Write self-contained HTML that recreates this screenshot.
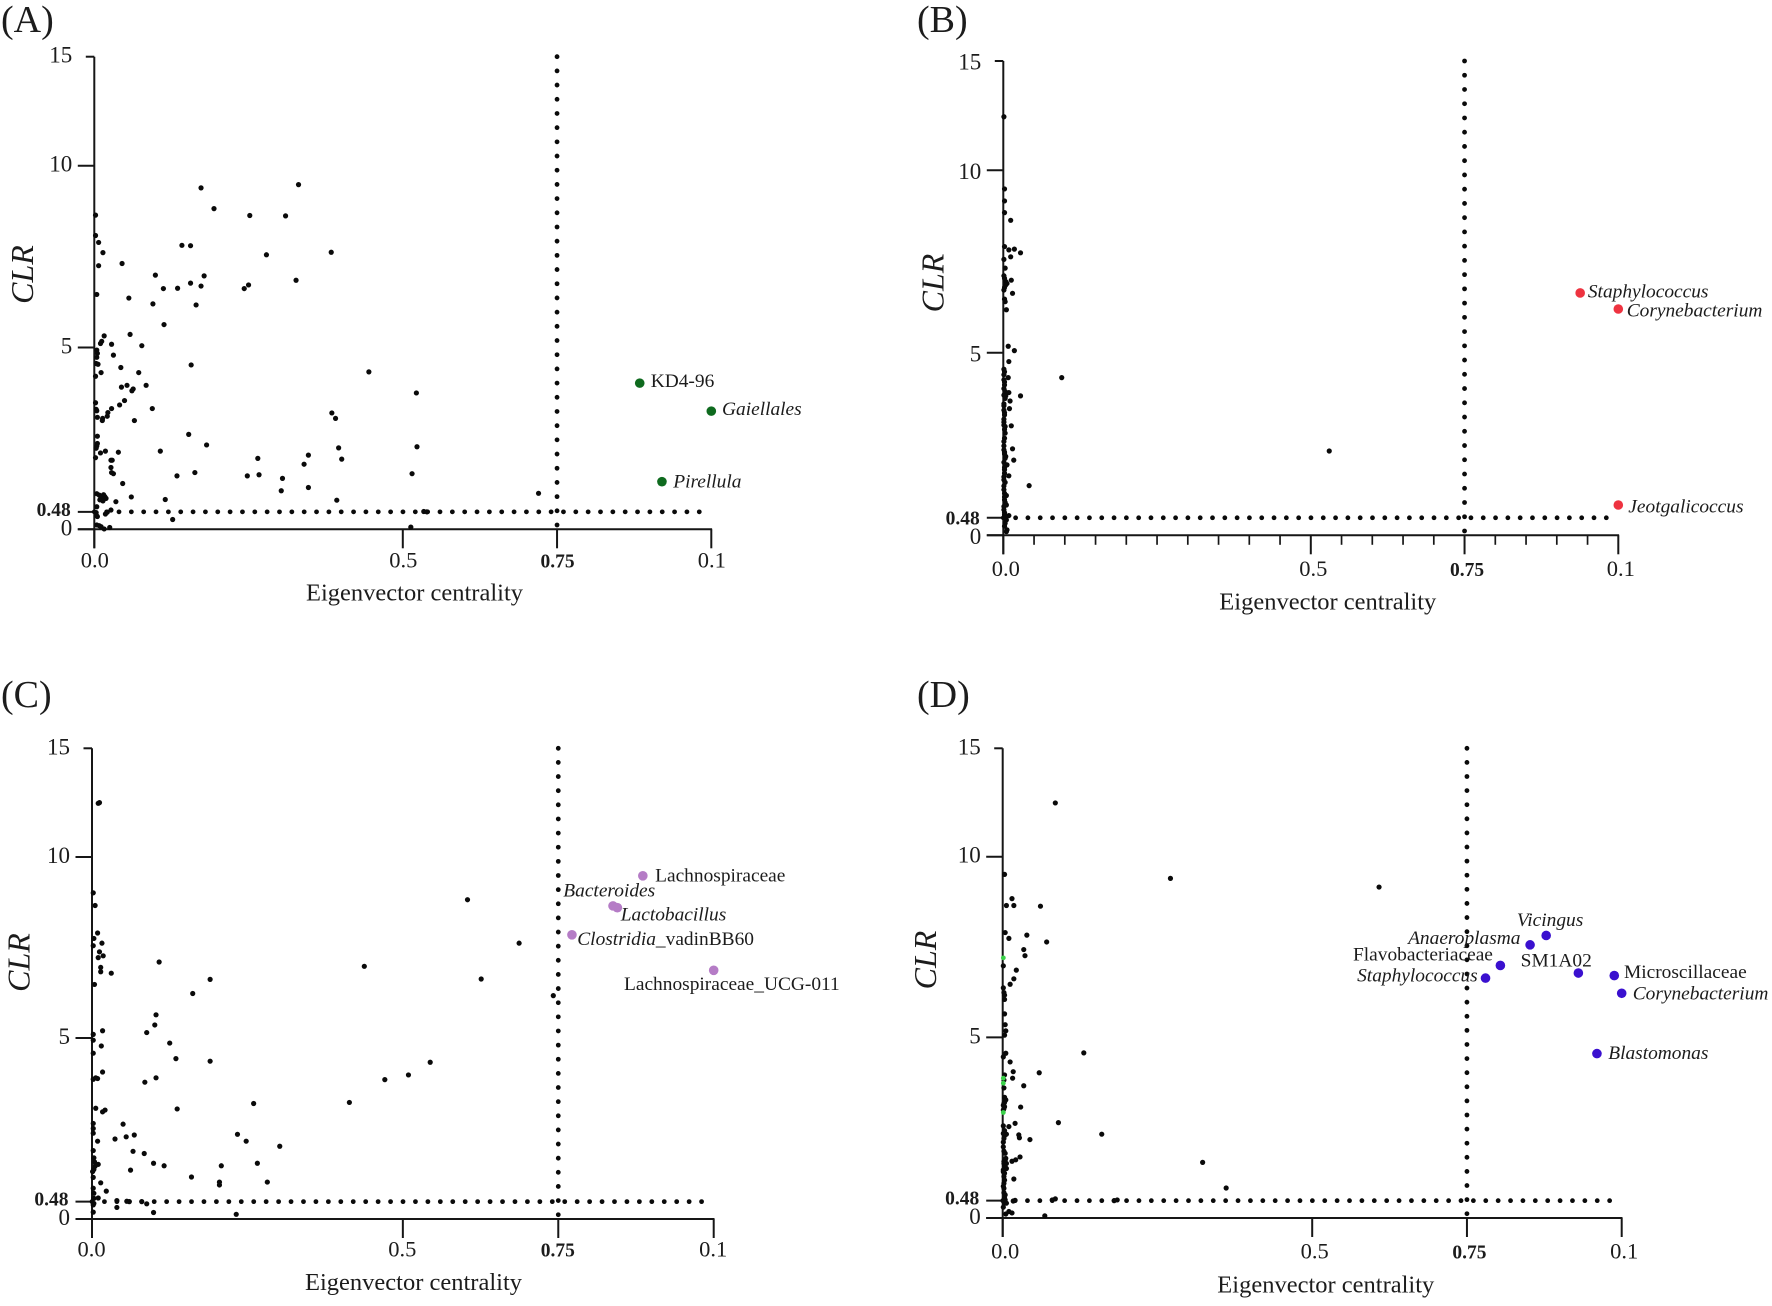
<!DOCTYPE html>
<html lang="en">
<head>
<meta charset="utf-8">
<title>Eigenvector centrality versus CLR, panels A to D</title>
<style>
html,body{margin:0;padding:0;background:#fff;width:1772px;height:1306px;overflow:hidden}
svg{display:block;filter:blur(.3px)}
text{font-family:"Liberation Serif",serif;fill:#1c1c1c}
</style>
</head>
<body>
<svg id="figure" xmlns="http://www.w3.org/2000/svg" width="1772" height="1306" viewBox="0 0 1772 1306"></svg>
<script>
/* ---------- shared axis data ---------- */
const yTickValues = [15, 10, 5, 0.48, 0];
const yTickLabels = ["15", "10", "5", "0.48", "0"];
const xTickValues = [0, 0.5, 0.75, 1];
const xTickLabels = ["0.0", "0.5", "0.75", "0.1"];
const clrThreshold = 0.48;
const centralityThreshold = 0.75;

/* ---------- panel A ---------- */
const panelAX = [
.173,.331,.194,.252,.310,.002,.002,.007,.014,.045,.007,.142,.156,.279,.384,.099,.178,.327,.156,.173,.250,.243,.135,.112,.004,.056,.095,.165,.113,
.058,.016,.012,.010,.028,.077,.004,.005,.031,.004,.003,.006,.157,.043,.011,.072,.445,.002,.044,.053,.063,.061,.084,.522,.002,.003,.004,.049,.041,.028,.022,.021,.094,.005,.0135,.013,.065,.385,.391,
.005,.153,.182,.005,.004,.003,.396,.523,.018,.010,.039,.107,.002,.027,.029,.265,.401,.347,.340,.027,.028,.031,.163,.267,.248,.134,.515,.305,.046,.303,.347,
.004,.008,.015,.017,.012,.009,.014,.019,.060,.115,.393,.035,.004,.027,.021,.018,.003,.004,.005,.127,.513,.004,.008,.011,.016,.025,.720,.534,.539];
const panelAY = [
9.39,9.48,8.82,8.63,8.62,8.64,8.08,7.89,7.61,7.31,7.25,7.81,7.80,7.55,7.62,6.99,6.97,6.85,6.77,6.69,6.72,6.62,6.63,6.62,6.46,6.36,6.20,6.17,5.63,
5.36,5.32,5.17,5.11,5.09,5.05,4.93,4.84,4.79,4.73,4.56,4.54,4.52,4.45,4.31,4.31,4.33,4.21,3.91,3.96,3.86,3.81,3.96,3.75,3.48,3.30,3.26,3.54,3.42,3.32,3.21,3.11,3.32,3.08,3.05,2.99,2.99,3.20,3.05,
2.56,2.61,2.32,2.36,2.29,2.23,2.24,2.27,2.15,2.10,2.12,2.15,1.97,1.90,1.90,1.95,1.93,2.04,1.79,1.70,1.56,1.53,1.56,1.50,1.47,1.47,1.53,1.40,1.26,1.06,1.15,
.98,.94,.95,.90,.85,.81,.78,.85,.89,.82,.80,.76,.62,.53,.47,.42,.46,.37,.35,.27,.06,.12,.10,.07,.01,.05,.99,.49,.48];
const panelAHubX = [.884, 1.0, .920];
const panelAHubY = [4.02, 3.25, 1.31];
const panelAHubItalic = ["", "Gaiellales", "Pirellula"];
const panelAHubPlain = ["KD4-96", "", ""];

/* ---------- panel B ---------- */
const panelBX = [
.001,.002,.002,.002,.012,.002,.009,.018,.028,.012,.001,.003,.001,.002,.004,.006,.004,.002,.001,.013,.015,.002,.003,.005,
.008,.018,.009,.001,.002,.008,.095,.001,.002,.003,.001,.009,.004,.028,.011,.010,.001,.001,.002,.001,.013,.001,.003,
.002,.001,.015,.001,.002,.004,.003,.017,.530,.006,.002,.002,.009,.001,.001,.042,.002,.005,.002,.005,.001,.009,.002,.005,.003,.006,.005,
.001,.002,.001,.003,.001,.002,.001,.002,.003,.001,.002,.001,.002,.001,.003,.001,.002,.003,.001,.002,.004,.002];
const panelBY = [
12.45,9.49,9.16,8.84,8.63,7.91,7.82,7.84,7.74,7.63,7.56,7.32,7.11,7.04,6.95,6.90,6.86,6.79,6.72,6.99,6.63,6.47,6.40,6.18,
5.18,5.06,4.76,4.55,4.48,4.32,4.32,4.26,4.12,3.94,3.84,3.91,3.82,3.82,3.68,3.47,3.60,3.43,3.30,3.18,3.00,3.02,2.98,
2.66,2.57,2.37,2.34,2.23,2.16,2.11,2.06,2.31,1.93,1.86,1.70,1.63,1.52,1.35,1.36,1.15,1.09,.97,.83,.79,.54,.56,.42,.33,.15,.10,
4.40,4.20,4.02,3.75,3.55,3.36,3.10,2.90,2.80,2.45,2.28,2.00,1.80,1.60,1.45,1.25,1.05,.90,.70,.62,.48,.25];
const panelBHubX = [.938, 1.0, 1.0];
const panelBHubY = [6.64, 6.20, .83];
const panelBHubItalic = ["Staphylococcus", "Corynebacterium", "Jeotgalicoccus"];
const panelBHubPlain = ["", "", ""];

/* ---------- panel C ---------- */
const panelCX = [
.010,.012,.002,.005,.009,.003,.016,.002,.012,.018,.010,.014,.014,.031,.004,.108,.190,.438,
.162,.103,.101,.088,.017,.002,.002,.015,.125,.002,.135,.190,.017,.103,.085,.002,.009,.006,.471,.509,.544,.414,.137,.006,.017,.021,.260,
.050,.002,.002,.002,.068,.055,.037,.009,.234,.248,.302,.002,.066,.084,.003,.004,.010,.005,.003,.001,.099,.116,.266,.208,.062,.160,.282,.205,.205,.002,.014,
.002,.003,.023,.010,.003,.003,.002,.040,.040,.056,.060,.080,.088,.099,.232,.002,.604,.687,.626,.742];
const panelCY = [
12.47,12.50,9.01,8.66,7.90,7.75,7.62,7.55,7.38,7.27,7.22,6.95,6.83,6.79,6.48,7.10,6.62,6.98,
6.23,5.64,5.36,5.15,5.20,5.10,4.94,4.78,4.86,4.58,4.43,4.36,4.06,3.90,3.78,3.86,3.88,3.90,3.85,3.98,4.33,3.22,3.04,3.06,2.96,3.01,3.19,
2.62,2.64,2.50,2.37,2.32,2.27,2.21,2.15,2.34,2.15,2.01,1.89,1.87,1.81,1.69,1.58,1.51,1.46,1.37,1.31,1.54,1.47,1.54,1.47,1.35,1.16,1.02,1.02,.94,1.15,1.00,
.85,.71,.77,.58,.57,.43,.39,.51,.32,.49,.48,.48,.42,.18,.13,.19,8.82,7.62,6.63,6.17];
const panelCHubX = [.886, .838, .845, .772, 1.0];
const panelCHubY = [9.48, 8.65, 8.60, 7.85, 6.87];
const panelCHubItalic = ["", "Bacteroides", "Lactobacillus", "Clostridia", ""];
const panelCHubPlain = ["Lachnospiraceae", "", "", "_vadinBB60", "Lachnospiraceae_UCG-011"];

/* ---------- panel D ---------- */
const panelDX = [
.085,.271,.608,.003,.015,.018,.006,.061,.004,.010,.039,.071,.034,.036,.001,.022,.018,.012,.001,
.002,.003,.003,.003,.004,.005,.003,.005,.001,.131,.012,.017,.016,.059,.003,.002,.034,.029,.003,.005,.002,.003,.001,
.090,.020,.010,.001,.160,.026,.027,.006,.003,.001,.002,.044,.001,.004,.005,.002,.006,.004,.001,.006,.003,.028,.021,.015,.323,.361,.018,
.002,.002,.004,.004,.006,.003,.017,.020,.080,.085,.180,.185,.010,.015,.005,.068,
.002,.003,.001,.002,.003,.001,.002,.004,.002,.003,.001,.002,.003,.001,.002,.003,.002,.001];
const panelDY = [
12.48,9.40,9.16,9.51,8.84,8.65,8.65,8.63,7.90,7.74,7.83,7.64,7.43,7.26,6.98,6.86,6.62,6.47,6.37,
6.24,6.17,6.05,5.65,5.35,5.18,5.06,4.56,4.46,4.57,4.32,4.05,3.87,4.02,3.96,3.82,3.66,3.07,3.34,3.27,3.17,3.08,2.99,
2.64,2.62,2.53,2.55,2.32,2.30,2.22,2.32,2.28,2.34,2.20,2.17,1.97,1.79,1.65,1.51,1.51,1.42,1.33,1.37,1.24,1.69,1.61,1.57,1.54,.83,1.08,
.96,.82,.64,.50,.41,.41,.47,.49,.50,.53,.48,.50,.18,.14,.11,.06,
3.60,3.20,3.12,3.03,2.42,2.10,1.85,1.60,1.56,1.46,1.28,1.15,1.05,.88,.70,.55,.45,.30];
const panelDFaintX = [.001, .001, .001, .001];
const panelDFaintY = [7.20, 3.87, 3.73, 2.92];
const panelDHubX = [.878, .852, .804, .780, .930, .988, 1.0, .960];
const panelDHubY = [7.82, 7.56, 6.99, 6.64, 6.78, 6.71, 6.22, 4.55];
const panelDHubItalic = ["Vicingus", "Anaeroplasma", "", "Staphylococcus", "", "", "Corynebacterium", "Blastomonas"];
const panelDHubPlain = ["", "", "Flavobacteriaceae", "", "SM1A02", "Microscillaceae", "", ""];

/* ---------- layout (pixel geometry of each panel, not data) ---------- */
const layoutA = {key:"a", title:"(A)", titleX:1, titleY:32, x0:94.3, x1:711.3, y0:529.3, y10:165.7, y15:56.7,
  yDy:6, xDx:.5, xBase:38, nameX:306, nameY:600.5, clrX:33, clrY:274.5, color:"#0e6a1e", minor:false,
  hubDx:[11,10.7,11.3], hubDy:[3.7,4,5.6]};
const layoutB = {key:"b", title:"(B)", titleX:917, titleY:32, x0:1003.3, x1:1618.3, y0:535.3, y10:170.3, y15:61,
  yDy:8.5, xDx:2.5, xBase:40.5, nameX:1219.3, nameY:609.3, clrX:943.3, clrY:283, color:"#ee3340", minor:true,
  hubDx:[7.7,8.4,10], hubDy:[4.7,7.7,7.7]};
const layoutC = {key:"c", title:"(C)", titleX:1, titleY:707, x0:92, x1:713.7, y0:1219, y10:857, y15:748.3,
  yDy:6, xDx:-.5, xBase:37.5, nameX:305, nameY:1290, clrX:29.3, clrY:962.5, color:"#b57cc6", minor:false,
  hubDx:[12.3,-49.7,3.4,5.3,-89.7], hubDy:[5.7,-9.3,12.6,10.3,19.7]};
const layoutD = {key:"d", title:"(D)", titleX:917, titleY:707, x0:1002.7, x1:1621.7, y0:1218, y10:856.7, y15:748.3,
  yDy:6, xDx:2.5, xBase:40.7, nameX:1217.3, nameY:1292.3, clrX:936, clrY:960, color:"#3a10cf", minor:false,
  hubDx:[-29.3,-122,-147.4,-128.4,-57.7,9.7,11,11.3], hubDy:[-9.3,-.7,-5,3.3,-6.7,2.3,6,5.3]};

const SVG_NS = "http://www.w3.org/2000/svg";
const figure = document.getElementById("figure");
const INK = "#161616";

function make(tag, parent, attrs) {
  const node = document.createElementNS(SVG_NS, tag);
  for (const k in attrs) node.setAttribute(k, attrs[k]);
  parent.appendChild(node);
  return node;
}

function drawPanel(layout, pointsX, pointsY, hubX, hubY, hubItalic, hubPlain, faintX, faintY) {
  const xScale = v => layout.x0 + v * (layout.x1 - layout.x0);
  const yScale = v => v <= 10
    ? layout.y0 - v * (layout.y0 - layout.y10) / 10
    : layout.y10 - (v - 10) * (layout.y10 - layout.y15) / 5;

  const panel = make("g", figure, {});
  
  

  const title = make("text", panel, {x: layout.titleX, y: layout.titleY, "font-size": 38});
  title.textContent = layout.title;
  
  

  const clr = make("text", panel, {
    transform: "translate(" + layout.clrX + " " + layout.clrY + ") rotate(-90)",
    "text-anchor": "middle", "font-size": 32, "font-style": "italic"});
  clr.textContent = "CLR";
  
  

  const xName = make("text", panel, {x: layout.nameX, y: layout.nameY, "font-size": 24.5});
  xName.textContent = "Eigenvector centrality";
  
  

  /* axes */
  const yAxis = make("line", panel, {x1: xScale(0), x2: xScale(0), y1: yScale(15), y2: yScale(0) + 19, stroke: INK, "stroke-width": 2});
  
  

  const xAxis = make("line", panel, {x1: xScale(0) - 16.5, x2: xScale(1) + .8, y1: yScale(0), y2: yScale(0), stroke: INK, "stroke-width": 2});
  
  

  yTickValues.forEach((v, i) => {
    const len = v === 15 ? 8.5 : 16.5;
    const tick = make("line", panel, {x1: xScale(0) - len, x2: xScale(0), y1: yScale(v), y2: yScale(v), stroke: INK, "stroke-width": 2});
    
    
    const bold = yTickLabels[i] === "0.48";
    const label = make("text", panel, {
      x: xScale(0) - (bold ? 23.5 : 22), y: yScale(v) + layout.yDy - (bold ? 2 : 0),
      "text-anchor": "end", "font-size": bold ? 19.5 : 23, "font-weight": bold ? "bold" : "normal"});
    label.textContent = yTickLabels[i];
    
    
  });

  xTickValues.forEach((v, i) => {
    const tick = make("line", panel, {x1: xScale(v), x2: xScale(v), y1: yScale(0), y2: yScale(0) + 19, stroke: INK, "stroke-width": 2});
    
    
    const bold = xTickLabels[i] === "0.75";
    const label = make("text", panel, {
      x: xScale(v) + layout.xDx, y: yScale(0) + layout.xBase,
      "text-anchor": "middle", "font-size": bold ? 19.5 : 22.5, "font-weight": bold ? "bold" : "normal"});
    label.textContent = xTickLabels[i];
    
    
  });

  if (layout.minor) {
    for (let k = 1; k < 20; k++) {
      const v = k / 20;
      if (xTickValues.indexOf(v) >= 0) continue;
      const tick = make("line", panel, {x1: xScale(v), x2: xScale(v), y1: yScale(0), y2: yScale(0) + 9.5, stroke: INK, "stroke-width": 1.7});
      
      
    }
  }

  /* threshold dotted lines: dot counts fixed, spacing fitted to the line length */
  const hStart = xScale(0), hEnd = xScale(.9805);
  const hGap = (hEnd - hStart) / 49;
  const hLine = make("line", panel, {x1: hStart, x2: hEnd + .5, y1: yScale(clrThreshold), y2: yScale(clrThreshold),
    stroke: "#0a0a0a", "stroke-width": 4.8, "stroke-linecap": "round", "stroke-dasharray": "0 " + hGap});
  
  

  const vStart = yScale(.118), vEnd = yScale(15);
  const vGap = (vStart - vEnd) / 33;
  const vLine = make("line", panel, {x1: xScale(centralityThreshold), x2: xScale(centralityThreshold), y1: vStart, y2: vEnd - .5,
    stroke: "#0a0a0a", "stroke-width": 4.8, "stroke-linecap": "round", "stroke-dasharray": "0 " + vGap});
  
  

  /* background points */
  pointsX.forEach((v, i) => {
    const dot = make("circle", panel, {cx: xScale(v), cy: yScale(pointsY[i]), r: 2.6, fill: "#0a0a0a"});
    
    
  });

  faintX.forEach((v, i) => {
    const dot = make("circle", panel, {cx: xScale(v), cy: yScale(faintY[i]), r: 2.4, fill: "#3bd24a"});
    
    
  });

  /* hub taxa */
  hubX.forEach((v, i) => {
    const px = xScale(v), py = yScale(hubY[i]);
    const dot = make("circle", panel, {cx: px, cy: py, r: 4.8, fill: layout.color});
    
    

    const label = make("text", panel, {x: px + layout.hubDx[i], y: py + layout.hubDy[i], "font-size": 19.4});
    
    
    if (hubItalic[i]) {
      const it = make("tspan", label, {"font-style": "italic"});
      it.textContent = hubItalic[i];
    }
    if (hubPlain[i]) {
      const pl = make("tspan", label, {});
      pl.textContent = hubPlain[i];
    }
  });
}

drawPanel(layoutA, panelAX, panelAY, panelAHubX, panelAHubY, panelAHubItalic, panelAHubPlain, [], []);
drawPanel(layoutB, panelBX, panelBY, panelBHubX, panelBHubY, panelBHubItalic, panelBHubPlain, [], []);
drawPanel(layoutC, panelCX, panelCY, panelCHubX, panelCHubY, panelCHubItalic, panelCHubPlain, [], []);
drawPanel(layoutD, panelDX, panelDY, panelDHubX, panelDHubY, panelDHubItalic, panelDHubPlain, panelDFaintX, panelDFaintY);
</script>
</body>
</html>
